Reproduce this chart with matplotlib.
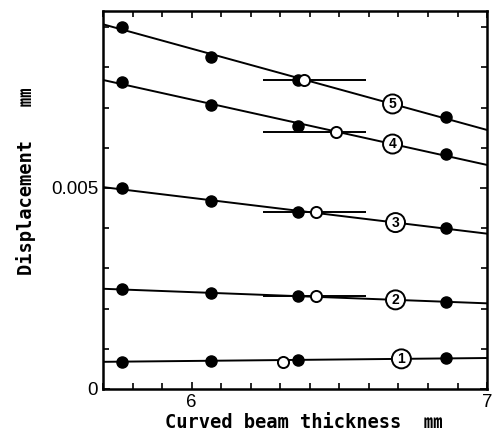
import numpy as np
import matplotlib
matplotlib.use("Agg")
import matplotlib.pyplot as plt
from matplotlib.ticker import MultipleLocator, FixedLocator

plt.rcParams.update({'font.size': 13.5, 'font.family': ['Liberation Sans', 'DejaVu Sans']})

# measured curved beam thickness (mm) for the filled points
thickness = np.array([5.765, 6.065, 6.36, 6.86])

# displacement (mm) of each case, filled points
disp_1 = np.array([0.00068, 0.00070, 0.00072, 0.00076])
disp_2 = np.array([0.00248, 0.00238, 0.00231, 0.00217])
disp_3 = np.array([0.00499, 0.00468, 0.00440, 0.00401])
disp_4 = np.array([0.00764, 0.00706, 0.00654, 0.00585])
disp_5 = np.array([0.00901, 0.00827, 0.00769, 0.00677])
cases = ["1", "2", "3", "4", "5"]

# open circles and their thickness range
open_x = [6.31, 6.42, 6.42, 6.49, 6.38]
open_y = [0.00068, 0.00231, 0.00440, 0.00639, 0.00769]
range_lo = [None, 6.24, 6.24, 6.24, 6.24]
range_hi = [None, 6.59, 6.59, 6.59, 6.59]

# where the circled case number sits on each line
label_x = [6.71, 6.69, 6.69, 6.68, 6.68]

fig = plt.figure(figsize=(4.93, 4.46), dpi=100)
ax = fig.add_axes([0.209, 0.128, 0.779, 0.847])

xx = np.array([5.7, 7.0])
for i, d in enumerate([disp_1, disp_2, disp_3, disp_4, disp_5]):
    k, b = np.polyfit(thickness, d, 1)
    ax.plot(xx, k * xx + b, color="black", lw=1.4, zorder=2)
    ax.plot(thickness, d, "o", color="black", ms=8, zorder=4)
    if range_lo[i] is not None:
        ax.hlines(open_y[i], range_lo[i], range_hi[i], color="black", lw=1.4, zorder=3)
    ax.plot(open_x[i], open_y[i], "o", mfc="white", mec="black", mew=1.4, ms=8, zorder=5)
    ax.text(label_x[i], k * label_x[i] + b, cases[i], ha="center", va="center",
            fontsize=10, fontweight="bold", zorder=6,
            bbox=dict(boxstyle="circle,pad=0.18", fc="white", ec="black", lw=1.4))

ax.set_xlim(5.7, 7.0)
ax.set_ylim(0, 0.0094)
ax.xaxis.set_major_locator(FixedLocator([6, 7]))
ax.xaxis.set_minor_locator(MultipleLocator(0.1))
ax.yaxis.set_major_locator(FixedLocator([0, 0.005]))
ax.yaxis.set_minor_locator(MultipleLocator(0.001))
ax.set_xticklabels(["6", "7"])
ax.set_yticklabels(["0", "0.005"])
ax.tick_params(which="both", direction="in", top=True, right=True, width=1.2)
ax.tick_params(which="major", length=5)
ax.tick_params(which="minor", length=4)
for s in ax.spines.values():
    s.set_linewidth(1.8)

lab_font = ['DejaVu Sans Mono', 'Noto Sans CJK JP']
ax.set_xlabel("Curved beam thickness  \u339c", family=lab_font, fontweight="bold")
ax.set_ylabel("Displacement   \u339c", family=lab_font, fontweight="bold")
ax.xaxis.set_label_coords(0.523, -0.065)
ax.yaxis.set_label_coords(-0.174, 0.55)

fig.savefig("out.png", dpi=100)
